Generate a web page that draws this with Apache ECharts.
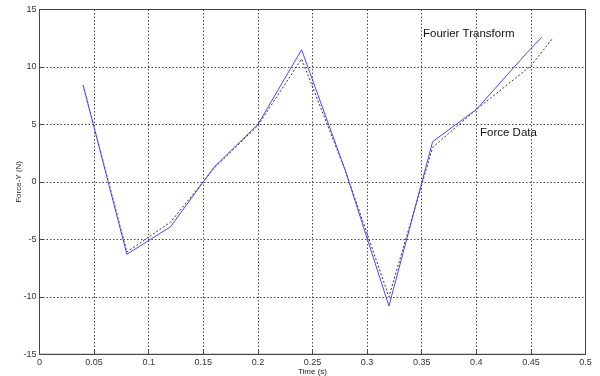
<!DOCTYPE html>
<html>
<head>
<meta charset="utf-8">
<script src="https://cdn.jsdelivr.net/npm/echarts@6/dist/echarts.min.js"></script>
<style>
  html, body { margin: 0; padding: 0; background: #fff; }
  #chart { width: 600px; height: 376px; }
</style>
</head>
<body>
<div id="chart"></div>
<script>
// Fourier reconstruction vs. measured force samples
const fourierTime = [0.04, 0.08, 0.12, 0.16, 0.20, 0.24, 0.28, 0.32, 0.36, 0.40, 0.446, 0.46];
const fourierForce = [8.4, -6.3, -3.9, 1.3, 5.0, 11.5, 1.0, -10.8, 3.5, 6.3, 11.2, 12.6];
const dataTime = [0.04, 0.08, 0.12, 0.16, 0.20, 0.24, 0.28, 0.32, 0.36, 0.40, 0.45, 0.47];
const dataForce = [8.4, -6.1, -3.5, 1.2, 4.9, 10.7, 1.0, -10.0, 3.0, 6.3, 10.1, 12.5];
const xTicks = [0, 0.5, 0.05];   // min, max, step
const yTicks = [-15, 15, 5];

const pairs = (xs, ys) => xs.map((x, i) => [x, ys[i]]);

const chart = echarts.init(document.getElementById('chart'), null, { renderer: 'canvas' });
const tickFont = { fontFamily: 'Liberation Sans, Arial, sans-serif', fontSize: 9, color: '#333' };
const gridLine = { show: true, lineStyle: { color: '#444', type: [1.5, 2], width: 1 } };

chart.setOption({
  animation: false,
  backgroundColor: '#fff',
  grid: {
    left: 39.5, right: 14.5, top: 9.5, bottom: 21.7,
    containLabel: false, outerBoundsMode: 'none',
    show: true, borderColor: '#444', borderWidth: 1, backgroundColor: '#fff'
  },
  xAxis: {
    type: 'value', min: xTicks[0], max: xTicks[1], interval: xTicks[2],
    name: 'Time (s)', nameLocation: 'middle', nameGap: 13, nameMoveOverlap: false,
    nameTextStyle: { fontFamily: 'Liberation Sans, Arial, sans-serif', fontSize: 8, color: '#222' },
    axisLine: { onZero: false, lineStyle: { color: '#444' } },
    axisTick: { inside: true, length: 4, lineStyle: { color: '#444' } },
    axisLabel: Object.assign({ margin: 4 }, tickFont),
    splitLine: gridLine
  },
  yAxis: {
    type: 'value', min: yTicks[0], max: yTicks[1], interval: yTicks[2],
    name: 'Force-Y (N)', nameLocation: 'middle', nameGap: 17, nameRotate: 90, nameMoveOverlap: false,
    nameTextStyle: { fontFamily: 'Liberation Sans, Arial, sans-serif', fontSize: 8, color: '#222' },
    axisLine: { show: true, onZero: false, lineStyle: { color: '#444' } },
    axisTick: { show: true, inside: true, length: 4, lineStyle: { color: '#444' } },
    axisLabel: Object.assign({ margin: 3 }, tickFont),
    splitLine: gridLine
  },
  series: [
    {
      name: 'Force Data', type: 'line', data: pairs(dataTime, dataForce),
      showSymbol: false, lineStyle: { color: '#333', width: 1, type: [2, 2] }, z: 2
    },
    {
      name: 'Fourier Transform', type: 'line', data: pairs(fourierTime, fourierForce),
      showSymbol: false, lineStyle: { color: '#4a4af2', width: 1 }, z: 3
    }
  ],
  graphic: [
    { type: 'text', left: 423, top: 28, style: { text: 'Fourier Transform', font: '11.5px "Liberation Sans", Arial, sans-serif', fill: '#111' } },
    { type: 'text', left: 480, top: 127, style: { text: 'Force Data', font: '11.5px "Liberation Sans", Arial, sans-serif', fill: '#111' } }
  ]
});
</script>
</body>
</html>
